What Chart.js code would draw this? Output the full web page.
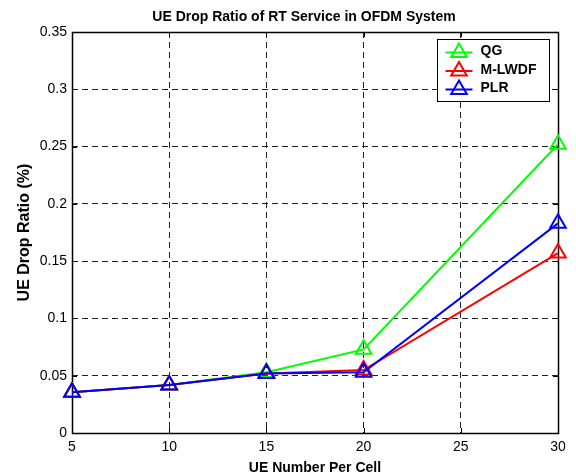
<!DOCTYPE html>
<html>
<head>
<meta charset="utf-8">
<script src="https://cdn.jsdelivr.net/npm/chart.js@4/dist/chart.umd.min.js"></script>
<style>
html,body{margin:0;padding:0;background:#fff;}
#wrap{width:576px;height:476px;}
</style>
</head>
<body>
<div id="wrap"><canvas id="c" width="576" height="476"></canvas></div>
<script>
const ueNumbers = [5, 10, 15, 20, 30];
const qg = [0.0355, 0.042, 0.053, 0.073, 0.252];
const mlwdf = [0.0355, 0.042, 0.052, 0.055, 0.157];
const plr = [0.0355, 0.042, 0.052, 0.053, 0.183];
const xTicks = [5, 10, 15, 20, 25, 30];
const yTicks = [0, 0.05, 0.1, 0.15, 0.2, 0.25, 0.3, 0.35];
const seriesNames = ['QG', 'M-LWDF', 'PLR'];
const seriesColors = ['#00ff00', '#ff0000', '#0000ff'];
const chartTitle = 'UE Drop Ratio of RT Service in OFDM System';

const FONT = '"Liberation Sans", Arial, Helvetica, sans-serif';

function pts(vals){ return ueNumbers.map((x,i)=>({x:x, y:vals[i]})); }

const allSeries = [qg, mlwdf, plr];
const datasets = allSeries.map((vals, i) => ({
  label: seriesNames[i],
  data: pts(vals),
  borderColor: seriesColors[i],
  backgroundColor: 'rgba(0,0,0,0)',
  borderWidth: 2,
  pointStyle: 'triangle',
  pointRadius: 9,
  pointBorderWidth: 2,
  pointBorderColor: seriesColors[i],
  pointBackgroundColor: 'rgba(0,0,0,0)',
  tension: 0,
  clip: false,
  order: 2 - i
}));

function drawTri(ctx, x, y, r){
  ctx.beginPath();
  for (let k = 0; k < 3; k++){
    const a = k * 2 * Math.PI / 3;
    const px = x + Math.sin(a) * r, py = y - Math.cos(a) * r;
    if (k === 0) ctx.moveTo(px, py); else ctx.lineTo(px, py);
  }
  ctx.closePath();
  ctx.stroke();
}

const framePlugin = {
  id: 'frame',
  beforeDatasetsDraw(chart){
    const ctx = chart.ctx, a = chart.chartArea;
    const xs = chart.scales.x, ys = chart.scales.y;
    ctx.save();
    ctx.strokeStyle = '#000';
    ctx.lineWidth = 1;
    ctx.setLineDash([]);
    const tl = 5;
    ctx.beginPath();
    xTicks.forEach(v => {
      const px = Math.round(xs.getPixelForValue(v)) + 0.5;
      ctx.moveTo(px, a.bottom); ctx.lineTo(px, a.bottom - tl);
      ctx.moveTo(px, a.top); ctx.lineTo(px, a.top + tl);
    });
    yTicks.forEach(v => {
      const py = Math.round(ys.getPixelForValue(v)) + 0.5;
      ctx.moveTo(a.left, py); ctx.lineTo(a.left + tl, py);
      ctx.moveTo(a.right, py); ctx.lineTo(a.right - tl, py);
    });
    ctx.stroke();
    ctx.lineWidth = 1.5;
    ctx.strokeRect(Math.round(a.left) + 0.5, Math.round(a.top) + 0.5, Math.round(a.right - a.left), Math.round(a.bottom - a.top));
    // title
    ctx.fillStyle = '#000';
    ctx.font = 'bold 14px ' + FONT;
    ctx.textAlign = 'center';
    ctx.textBaseline = 'alphabetic';
    ctx.fillText(chartTitle, (a.left + a.right) / 2 - 11, 21);
    ctx.restore();
  },
  afterDatasetsDraw(chart){
    const ctx = chart.ctx, a = chart.chartArea;
    ctx.save();
    ctx.setLineDash([]);
    const bw = 112, bh = 62;
    const bx = Math.round(a.right - 9 - bw) + 0.5, by = Math.round(a.top + 7) + 0.5;
    ctx.fillStyle = '#fff';
    ctx.fillRect(bx, by, bw, bh);
    ctx.strokeStyle = '#000';
    ctx.lineWidth = 1;
    ctx.strokeRect(bx, by, bw, bh);
    chart.data.datasets.forEach((ds, i) => {
      const cy = by + 13 + i * 18.5;
      ctx.strokeStyle = ds.borderColor;
      ctx.lineWidth = 2;
      ctx.beginPath();
      ctx.moveTo(bx + 8, cy); ctx.lineTo(bx + 35, cy);
      ctx.stroke();
      drawTri(ctx, bx + 21.5, cy, 9);
      ctx.fillStyle = '#000';
      ctx.font = 'bold 14px ' + FONT;
      ctx.textBaseline = 'middle';
      ctx.textAlign = 'left';
      ctx.fillText(ds.label, bx + 43, cy - 1);
    });
    ctx.restore();
  }
};

new Chart(document.getElementById('c'), {
  type: 'line',
  data: { datasets: datasets },
  options: {
    responsive: false,
    animation: false,
    devicePixelRatio: 1,
    layout: { padding: { left: 0, right: 18, top: 32, bottom: 0 } },
    plugins: {
      legend: { display: false },
      tooltip: { enabled: false },
      title: { display: false }
    },
    scales: {
      x: {
        type: 'linear',
        min: 5, max: 30,
        afterBuildTicks(scale){ scale.ticks = xTicks.map(v => ({value: v})); },
        afterFit(scale){ scale.height = 43; },
        border: { display: false, dash: [6, 4] },
        grid: { color: '#222', lineWidth: 1, drawTicks: false },
        ticks: { color: '#000', font: { family: FONT, size: 14 }, padding: 6, maxRotation: 0, autoSkip: false },
        title: { display: true, text: 'UE Number Per Cell', color: '#000', font: { family: FONT, size: 14, weight: 'bold', lineHeight: 1 }, padding: { top: 0, bottom: 1 } }
      },
      y: {
        type: 'linear',
        min: 0, max: 0.35,
        afterBuildTicks(scale){ scale.ticks = yTicks.map(v => ({value: v})); },
        afterFit(scale){ scale.width = 72; },
        border: { display: false, dash: [6, 4] },
        grid: { color: '#222', lineWidth: 1, drawTicks: false },
        ticks: {
          color: '#000', font: { family: FONT, size: 14 }, padding: 5, autoSkip: false,
          callback: v => String(+v.toFixed(2))
        },
        title: { display: true, text: 'UE Drop Ratio (%)', color: '#000', font: { family: FONT, size: 16, weight: 'bold', lineHeight: 1.2 }, padding: { top: 15, bottom: 0 } }
      }
    }
  },
  plugins: [framePlugin]
});
</script>
</body>
</html>
